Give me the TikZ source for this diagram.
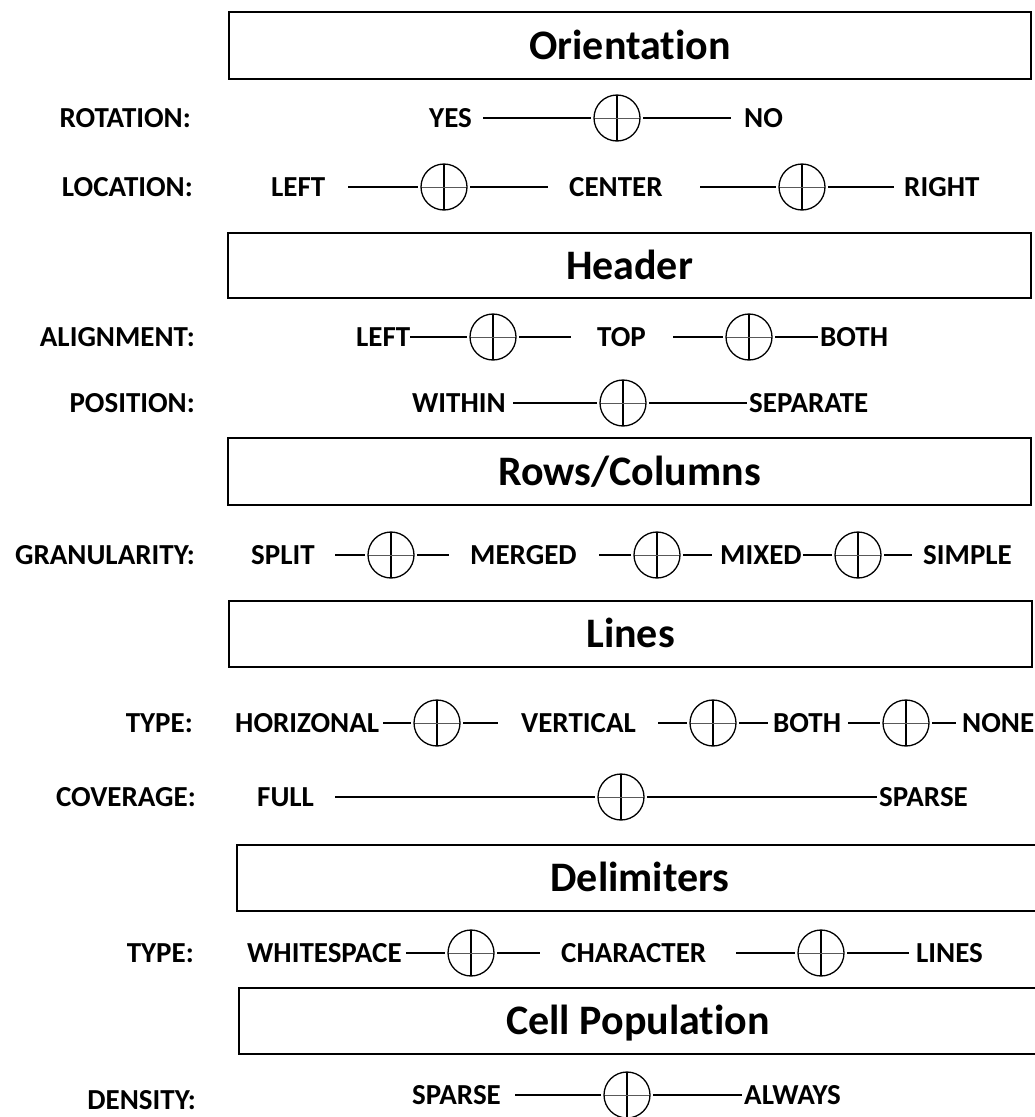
\documentclass[tikz,border=0pt]{standalone}
\usepackage{fontspec}
\setmainfont[RawFeature={-liga;-clig;-calt;-dlig}]{Carlito}
\newcommand\mkknob[5]{%
  \node[knob] (#1) at (#2,#3) {};
  \coordinate (#1-l) at (#4,#3);
  \coordinate (#1-r) at (#5,#3);
  \draw[conn] (#1-l) -- (#1);
  \draw[conn] (#1) -- (#1-r);}
\begin{document}
\begin{tikzpicture}[x=1pt,y=-1pt,
  lbl/.style={font=\fontsize{29}{30}\selectfont\bfseries, inner sep=0pt, anchor=east},
  optxt/.style={font=\fontsize{29}{30}\selectfont\bfseries, inner sep=0pt, anchor=west},
  hdr/.style={draw, line width=1.6pt, inner sep=0pt, font=\fontsize{42}{44}\selectfont\bfseries, text height=27pt, text depth=0pt},
  knob/.style={circle, draw, line width=1.3pt, minimum size=46pt, inner sep=0pt, outer sep=3pt,
    path picture={\draw[line width=1.1pt] (path picture bounding box.north) -- (path picture bounding box.south);
                  \draw[line width=1pt, black!65] (path picture bounding box.west) -- (path picture bounding box.east);}},
  conn/.style={line width=1.3pt}]
\useasboundingbox (0,0) rectangle (1034,1117);

% section boxes
\node[hdr, minimum width=802pt, minimum height=67pt] (bOri) at (630,45.5) {Orientat\kern0pt ion};
\node[hdr, minimum width=803pt, minimum height=65pt] (bHead) at (629.5,265.5) {Header};
\node[hdr, minimum width=803pt, minimum height=67pt] (bRows) at (629.5,471.5) {Rows/Columns};
\node[hdr, minimum width=803pt, minimum height=66pt] (bLines) at (630.5,634) {Lines};
\node[hdr, minimum width=806pt, minimum height=66pt] (bDelim) at (640,878) {Delimiters};
\node[hdr, minimum width=798pt, minimum height=66pt] (bCell) at (638,1021) {Cell Populat\kern0pt ion};

% ROTATION
\node[lbl] (lRot) at (191,118) {ROTATION:};
\node[optxt] (oYes) at (429,118) {YES};
\mkknob{k1}{617}{118}{483}{731}
\node[optxt] (oNo) at (744,118) {NO};

% LOCATION
\node[lbl] (lLoc) at (193,187) {LOCATION:};
\node[optxt] (oLeft) at (271,187) {LEFT};
\mkknob{k2}{444}{187}{348}{548}
\node[optxt] (oCenter) at (569,187) {CENTER};
\mkknob{k3}{802}{187}{700}{894}
\node[optxt] (oRight) at (904,187) {RIGHT};

% ALIGNMENT
\node[lbl] (lAli) at (195,337) {ALIGNMENT:};
\node[optxt] (oALeft) at (356,337) {LEFT};
\mkknob{k4}{493}{337}{410}{571}
\node[optxt] (oTop) at (597,337) {TOP};
\mkknob{k5}{749}{337}{673}{818}
\node[optxt] (oABoth) at (820,337) {BOTH};

% POSITION
\node[lbl] (lPos) at (195,403) {POSITION:};
\node[optxt] (oWithin) at (412,403) {WITHIN};
\mkknob{k6}{623}{403}{513}{747}
\node[optxt] (oSep) at (749,403) {SEPARATE};

% GRANULARITY
\node[lbl] (lGran) at (195,555) {GRANULARITY:};
\node[optxt] (oSplit) at (251,555) {SPLIT};
\mkknob{k7}{391}{555}{335}{449}
\node[optxt] (oMerged) at (470,555) {MERGED};
\mkknob{k8}{657}{555}{599}{712}
\node[optxt] (oMixed) at (720,555) {MIXED};
\mkknob{k9}{858}{555}{803}{912}
\node[optxt] (oSimple) at (923,555) {SIMPLE};

% TYPE (lines)
\node[lbl] (lType) at (193,723) {TYPE:};
\node[optxt] (oHor) at (235,723) {HORIZONAL};
\mkknob{k10}{437}{723}{383}{498}
\node[optxt] (oVert) at (521,723) {VERTICAL};
\mkknob{k11}{713}{723}{658}{768}
\node[optxt] (oLBoth) at (773,723) {BOTH};
\mkknob{k12}{906}{723}{848}{956}
\node[optxt] (oNone) at (962,723) {NONE};

% COVERAGE
\node[lbl] (lCov) at (196,797) {COVERAGE:};
\node[optxt] (oFull) at (257,797) {FULL};
\mkknob{k13}{621}{797}{335}{877}
\node[optxt] (oCSparse) at (879,797) {SPARSE};

% TYPE (delimiters)
\node[lbl] (lDType) at (194,953) {TYPE:};
\node[optxt] (oWhite) at (247,953) {WHITESPACE};
\mkknob{k14}{471}{953}{406}{540}
\node[optxt] (oChar) at (561,953) {CHARACTER};
\mkknob{k15}{821}{953}{736}{909}
\node[optxt] (oDLines) at (916,953) {LINES};

% DENSITY
\node[lbl] (lDens) at (196,1100) {DENSITY:};
\node[optxt] (oDSparse) at (412,1095) {SPARSE};
\mkknob{k16}{627}{1095}{515}{742}
\node[optxt] (oAlways) at (744,1095) {ALWAYS};
\end{tikzpicture}
\end{document}
